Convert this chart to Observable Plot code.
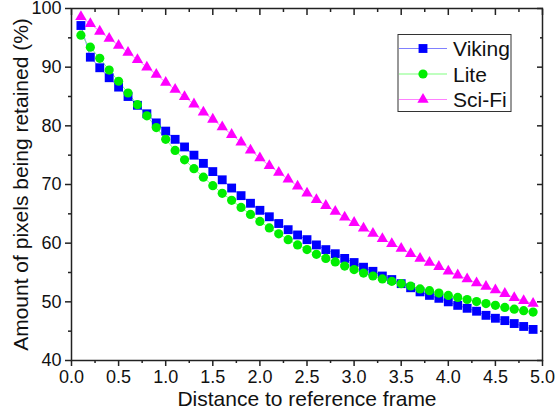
<!DOCTYPE html>
<html><head><meta charset="utf-8">
<script src="https://cdn.jsdelivr.net/npm/d3@7"></script>
<script src="https://cdn.jsdelivr.net/npm/@observablehq/plot@0.6"></script>
<style>
body{margin:0;background:#fff}
#chart{position:relative;width:555px;height:416px}
</style>
</head><body><div id="chart"></div>
<script>
const distances = [0.1,0.2,0.3,0.4,0.5,0.6,0.7,0.8,0.9,1.0,1.1,1.2,1.3,1.4,1.5,1.6,1.7,1.8,1.9,2.0,2.1,2.2,2.3,2.4,2.5,2.6,2.7,2.8,2.9,3.0,3.1,3.2,3.3,3.4,3.5,3.6,3.7,3.8,3.9,4.0,4.1,4.2,4.3,4.4,4.5,4.6,4.7,4.8,4.9];
const viking = [97.1,91.7,89.9,88.2,86.6,85.0,83.5,82.05,80.5,79.1,77.7,76.4,75.0,73.6,72.2,70.8,69.4,68.1,66.8,65.6,64.5,63.35,62.3,61.4,60.6,59.7,58.9,58.2,57.4,56.7,55.9,55.2,54.4,53.8,53.1,52.4,51.7,51.1,50.6,50.0,49.4,48.9,48.4,47.7,47.2,46.8,46.3,45.8,45.3];
const lite = [95.45,93.4,91.5,89.5,87.6,85.6,83.6,81.7,79.7,77.7,75.8,74.2,72.7,71.25,69.8,68.5,67.3,66.1,64.9,63.7,62.6,61.6,60.6,59.7,58.9,58.1,57.4,56.8,56.1,55.5,54.9,54.4,53.9,53.5,53.1,52.7,52.2,51.9,51.5,51.1,50.75,50.4,50.05,49.7,49.4,49.05,48.75,48.5,48.25];
const scifi = [98.6,97.4,96.1,94.9,93.7,92.5,91.25,90.0,88.75,87.4,86.2,84.95,83.7,82.3,81.1,79.8,78.5,77.2,75.85,74.5,73.2,72.05,70.9,69.7,68.5,67.4,66.4,65.4,64.4,63.5,62.55,61.65,60.75,59.9,59.1,58.2,57.4,56.7,56.0,55.2,54.55,53.9,53.2,52.6,52.0,51.4,50.7,50.2,49.7];
const seriesNames = ["Viking","Lite","Sci-Fi"];
const xTicks = [0,0.5,1.0,1.5,2.0,2.5,3.0,3.5,4.0,4.5,5.0];
const xMinorTicks = [0.25,0.75,1.25,1.75,2.25,2.75,3.25,3.75,4.25,4.75];
const yTicks = [40,50,60,70,80,90,100];
const yMinorTicks = [45,55,65,75,85,95];
const xTitle = "Distance to reference frame";
const yTitle = "Amount of pixels being retained (%)";

const styles = [
  {symbol:"square", fill:"#0000ff", line:"#8080ff", r:5},
  {symbol:"circle", fill:"#00ee00", line:"#80ff80", r:4.6},
  {symbol:"triangle", fill:"#ff00ff", line:"#ff80ff", r:4.2}
];
const values = [viking, lite, scifi];
const tables = values.map((vals, i) => distances.map((x, j) => ({series: seriesNames[i], x, y: vals[j]})));

const AX = "#222";
const marks = [];
tables.forEach((t, i) => {
  marks.push(Plot.line(t, {x:"x", y:"y", stroke: styles[i].line, strokeWidth:1}));
});
tables.forEach((t, i) => {
  marks.push(Plot.dot(t, {x:"x", y:"y", symbol: styles[i].symbol, fill: styles[i].fill, r: styles[i].r, stroke:"none"}));
});
marks.push(
  Plot.frame({stroke: AX, strokeWidth: 1.5}),
  Plot.axisX({anchor:"bottom", ticks: xTicks, tickSize: 6, tickPadding: 4, tickFormat: d3.format(".1f"), fontSize: 18, label: null, stroke: AX, fill:"#111", strokeWidth:1.5}),
  Plot.axisX(xMinorTicks, {anchor:"bottom", tickSize: 3, fill:"none", stroke: AX, strokeWidth:1.5}),
  Plot.axisX(xTicks, {anchor:"top", tickSize: -6, fill:"none", stroke: AX, strokeWidth:1.5}),
  Plot.axisX(xMinorTicks, {anchor:"top", tickSize: -3, fill:"none", stroke: AX, strokeWidth:1.5}),
  Plot.axisY({anchor:"left", ticks: yTicks, tickSize: 6, tickPadding: 4, fontSize: 18, label: null, stroke: AX, fill:"#111", strokeWidth:1.5}),
  Plot.axisY(yMinorTicks, {anchor:"left", tickSize: 3, fill:"none", stroke: AX, strokeWidth:1.5}),
  Plot.axisY(yTicks, {anchor:"right", tickSize: -6, fill:"none", stroke: AX, strokeWidth:1.5}),
  Plot.axisY(yMinorTicks, {anchor:"right", tickSize: -3, fill:"none", stroke: AX, strokeWidth:1.5}),
  Plot.text([xTitle], {frameAnchor:"bottom", dy: 45, fontSize: 21, fill:"#111", textAnchor:"middle"}),
  Plot.text([yTitle], {frameAnchor:"left", dx: -50, rotate: -90, fontSize: 21, fill:"#111", textAnchor:"middle"})
);

const plot = Plot.plot({
  width: 555, height: 416,
  marginLeft: 71, marginRight: 13, marginTop: 8, marginBottom: 56,
  style: {fontFamily: "'Liberation Sans', Arial, sans-serif", background: "#fff", color: "#111", overflow: "visible"},
  x: {domain: [0, 5]},
  y: {domain: [40, 100]},
  marks
});
document.getElementById("chart").appendChild(plot);

// Legend (inside the plot area, top right)
const svg = d3.select(plot);
const lg = svg.append("g").attr("font-family", "'Liberation Sans', Arial, sans-serif").attr("text-anchor", "start");
const box = {x: 398, y: 34.5, w: 113, h: 77};
lg.append("rect").attr("x", box.x).attr("y", box.y).attr("width", box.w).attr("height", box.h)
  .attr("fill", "#fff").attr("stroke", "#333").attr("stroke-width", 1);
const symMap = {square: d3.symbolSquare, circle: d3.symbolCircle, triangle: d3.symbolTriangle};
seriesNames.forEach((name, i) => {
  const cy = box.y + 14 + i * 25.5;
  const g = lg.append("g");
  g.append("line").attr("x1", box.x + 1).attr("x2", box.x + 49).attr("y1", cy).attr("y2", cy)
    .attr("stroke", styles[i].line).attr("stroke-width", 1.2);
  g.append("path").attr("transform", `translate(${box.x + 25},${cy})`)
    .attr("d", d3.symbol(symMap[styles[i].symbol], Math.PI * styles[i].r * styles[i].r)())
    .attr("fill", styles[i].fill);
  g.append("text").attr("x", box.x + 55).attr("y", cy + 7.5).attr("font-size", 21).attr("fill", "#111")
    .attr("text-anchor", "start").text(name);
});
</script>
</body></html>
